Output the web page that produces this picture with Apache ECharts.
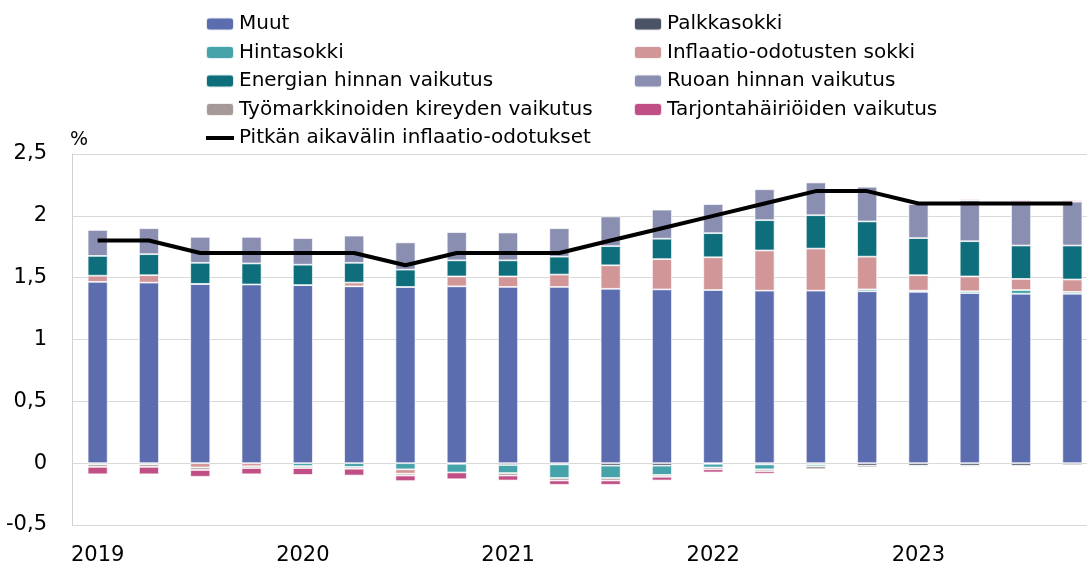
<!DOCTYPE html>
<html>
<head>
<meta charset="utf-8">
<script src="https://cdn.jsdelivr.net/npm/echarts@6/dist/echarts.min.js"></script>
<style>
html,body{margin:0;padding:0;background:#fff;}
#chart{width:1087px;height:567px;}
</style>
</head>
<body>
<div id="chart"></div>
<script>
// Quarters 2019Q1 .. 2023Q4
const categories = ['2019Q1','2019Q2','2019Q3','2019Q4','2020Q1','2020Q2','2020Q3','2020Q4',
  '2021Q1','2021Q2','2021Q3','2021Q4','2022Q1','2022Q2','2022Q3','2022Q4',
  '2023Q1','2023Q2','2023Q3','2023Q4'];

const muut       = [1.466,1.46,1.45,1.445,1.44,1.43,1.425,1.43,1.425,1.425,1.41,1.405,1.40,1.395,1.395,1.39,1.385,1.375,1.37,1.37];
const palkka     = [-0.01,-0.01,0,0,0,0,0,-0.005,-0.015,-0.01,-0.02,-0.02,-0.005,-0.01,-0.01,-0.02,-0.02,-0.02,-0.02,-0.015];
const hinta      = [0,0,0,0,-0.025,-0.03,-0.05,-0.07,-0.065,-0.11,-0.10,-0.075,-0.03,-0.04,-0.015,0.015,0.01,0.015,0.03,0.015];
const inflOdot   = [0.05,0.06,-0.035,-0.025,0,0.03,-0.035,0.08,0.085,0.10,0.19,0.245,0.265,0.325,0.34,0.265,0.125,0.12,0.09,0.10];
const energia    = [0.16,0.17,0.17,0.17,0.165,0.16,0.14,0.13,0.13,0.145,0.155,0.165,0.195,0.245,0.27,0.285,0.30,0.285,0.27,0.275];
const ruoka      = [0.21,0.21,0.21,0.215,0.215,0.22,0.22,0.23,0.225,0.23,0.24,0.235,0.235,0.25,0.265,0.28,0.275,0.33,0.355,0.355];
const tyomarkk   = [-0.02,-0.02,-0.02,-0.015,-0.015,-0.015,-0.015,0,-0.02,-0.02,-0.02,-0.015,-0.015,-0.015,-0.025,-0.015,-0.01,-0.01,0,0];
const tarjonta   = [-0.06,-0.06,-0.055,-0.05,-0.055,-0.055,-0.045,-0.055,-0.04,-0.035,-0.035,-0.03,-0.025,-0.02,0,0,0,0.01,0.01,0.01];
const odotukset  = [1.8,1.8,1.7,1.7,1.7,1.7,1.6,1.7,1.7,1.7,1.8,1.9,2.0,2.1,2.2,2.2,2.1,2.1,2.1,2.1];

const yTicks = {'2.5':'2,5','2':'2','1.5':'1,5','1':'1','0.5':'0,5','0':'0','-0.5':'-0,5'};
const yearLabels = {'2019Q1':'2019','2020Q1':'2020','2021Q1':'2021','2022Q1':'2022','2023Q1':'2023'};

const barDefs = [
  ['Muut', muut, '#5b6daf'],
  ['Palkkasokki', palkka, '#4b5366'],
  ['Hintasokki', hinta, '#45a3a9'],
  ['Inflaatio-odotusten sokki', inflOdot, '#d19798'],
  ['Energian hinnan vaikutus', energia, '#0f6e7c'],
  ['Ruoan hinnan vaikutus', ruoka, '#8a8fb2'],
  ['Työmarkkinoiden kireyden vaikutus', tyomarkk, '#a69a99'],
  ['Tarjontahäiriöiden vaikutus', tarjonta, '#c04f86']
];
const lineName = 'Pitkän aikavälin inflaatio-odotukset';

const FONT = 'DejaVu Sans';
const series = barDefs.map(([name, data, color]) => ({
  name, type: 'bar', stack: 'total', data, barWidth: 20,
  itemStyle: {color, borderColor: 'rgba(255,255,255,0.85)', borderWidth: 0.8},
  emphasis: {disabled: true}
}));
series.push({
  name: lineName, type: 'line', data: odotukset, symbol: 'none',
  lineStyle: {color: '#000', width: 4}, itemStyle: {color: '#000'}, z: 5,
  emphasis: {disabled: true}
});

const legendCommon = {
  orient: 'vertical', itemWidth: 28, itemHeight: 13, itemGap: 6.5,
  selectedMode: false, symbolKeepAspect: true,
  textStyle: {fontFamily: FONT, fontSize: 20, color: '#000', lineHeight: 22}
};

const chart = echarts.init(document.getElementById('chart'), null, {renderer: 'canvas'});
chart.setOption({
  animation: false,
  backgroundColor: '#fff',
  grid: {left: 72, width: 1026, top: 154, bottom: 42, containLabel: false, outerBoundsMode: 'none'},
  legend: [
    Object.assign({left: 200, top: 8, data: ['Muut','Hintasokki','Energian hinnan vaikutus','Työmarkkinoiden kireyden vaikutus',
      {name: lineName, icon: 'path://M0,0h28v4h-28z'}]}, legendCommon),
    Object.assign({left: 628, top: 8, data: ['Palkkasokki','Inflaatio-odotusten sokki','Ruoan hinnan vaikutus','Tarjontahäiriöiden vaikutus']}, legendCommon)
  ],
  graphic: [{type: 'text', left: 70, top: 131, style: {text: '%', fontFamily: FONT, fontSize: 19, fill: '#000'}}],
  xAxis: {
    type: 'category', data: categories,
    axisLine: {show: false}, axisTick: {show: false},
    axisLabel: {interval: 3, margin: 20, fontFamily: FONT, fontSize: 21, color: '#000',
      formatter: v => yearLabels[v] || ''}
  },
  yAxis: {
    type: 'value', min: -0.5, max: 2.5, interval: 0.5,
    axisLine: {show: true, lineStyle: {color: '#d0d0d0', width: 1}},
    axisTick: {show: false},
    splitLine: {lineStyle: {color: '#d9d9d9', width: 1}},
    axisLabel: {margin: 25, fontFamily: FONT, fontSize: 21, color: '#000',
      formatter: v => yTicks[String(v)] !== undefined ? yTicks[String(v)] : String(v).replace('.', ',')}
  },
  series
});
</script>
</body>
</html>
